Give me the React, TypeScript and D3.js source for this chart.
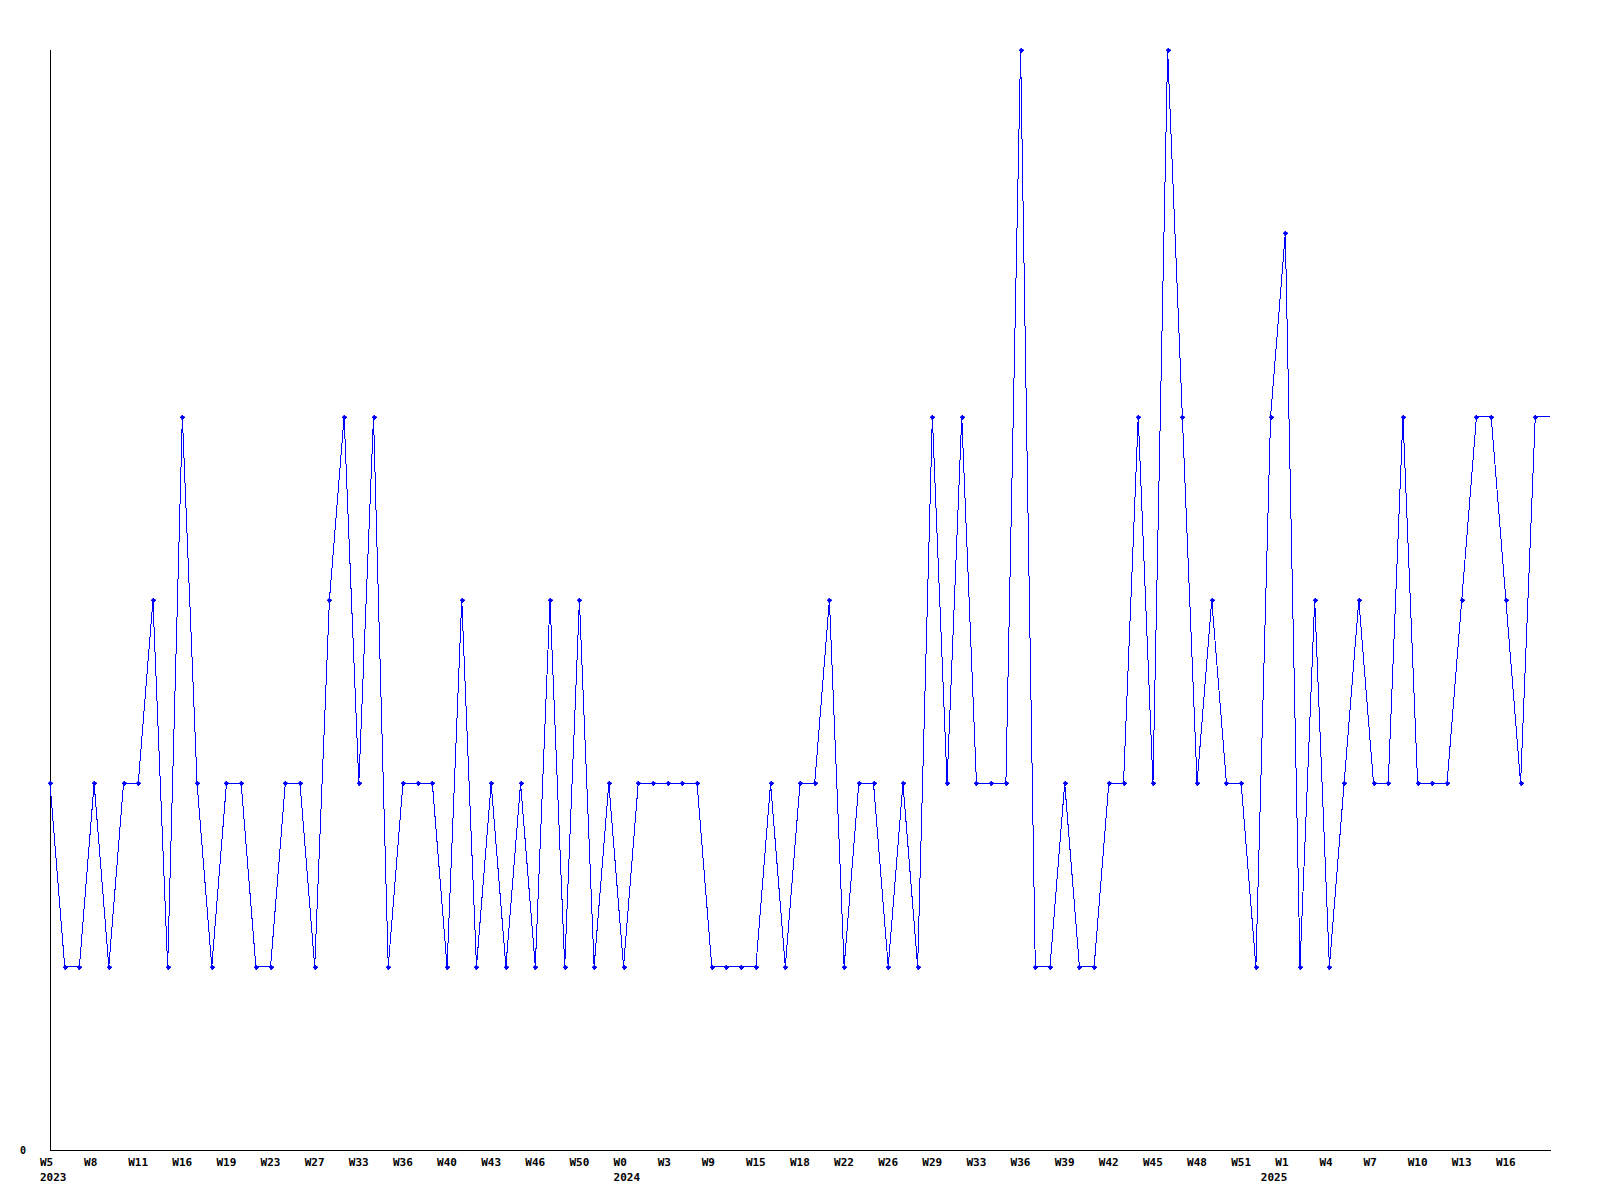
import React from "react";
import * as d3 from "d3";

const values: number[] = [
  2, 1, 1, 2, 1, 2, 2, 3, 1, 4,
  2, 1, 2, 2, 1, 1, 2, 2, 1, 3,
  4, 2, 4, 1, 2, 2, 2, 1, 3, 1,
  2, 1, 2, 1, 3, 1, 3, 1, 2, 1,
  2, 2, 2, 2, 2, 1, 1, 1, 1, 2,
  1, 2, 2, 3, 1, 2, 2, 1, 2, 1,
  4, 2, 4, 2, 2, 2, 6, 1, 1, 2,
  1, 1, 2, 2, 4, 2, 6, 4, 2, 3,
  2, 2, 1, 4, 5, 1, 3, 1, 2, 3,
  2, 2, 4, 2, 2, 2, 3, 4, 4, 3,
  2, 4,
];

const weekLabels: string[] = [
  "W5", "W8", "W11", "W16", "W19", "W23", "W27", "W33", "W36", "W40",
  "W43", "W46", "W50", "W0", "W3", "W9", "W15", "W18", "W22", "W26",
  "W29", "W33", "W36", "W39", "W42", "W45", "W48", "W51", "W1", "W4",
  "W7", "W10", "W13", "W16",
];
const labelEvery = 3;

const yearLabels: { label: string; weekIndex: number }[] = [
  { label: "2023", weekIndex: 0 },
  { label: "2024", weekIndex: 13 },
  { label: "2025", weekIndex: 28 },
];

const yMax = 6;

export default function App() {
  const W = 1600;
  const H = 1200;
  const left = 50;
  const right = 1550;
  const top = 50;
  const bottom = 1150;

  const x = d3.scaleLinear().domain([0, values.length]).range([left, right]);
  const y = d3.scaleLinear().domain([0, yMax]).range([bottom, top]);

  const line = d3
    .line<number>()
    .x((_, i) => x(i))
    .y((d) => y(d));

  const path = line(values) || "";
  const last = values[values.length - 1];
  const tail = `M${x(values.length - 1)},${y(last)}H${x(values.length)}`;

  const font = "'DejaVu Sans Mono', 'Liberation Mono', monospace";

  return (
    <svg
      width={W}
      height={H}
      style={{ position: "absolute", left: 0, top: 0, background: "#fff" }}
    >
      <rect x={0} y={0} width={W} height={H} fill="#fff" />
      {/* axes */}
      <line
        x1={left + 0.5}
        x2={left + 0.5}
        y1={top}
        y2={bottom + 0.5}
        stroke="#000"
        strokeWidth={1}
        shapeRendering="crispEdges"
      />
      <line
        x1={left}
        x2={right + 1}
        y1={bottom + 0.5}
        y2={bottom + 0.5}
        stroke="#000"
        strokeWidth={1}
        shapeRendering="crispEdges"
      />
      {/* y label */}
      <text
        x={left - 30}
        y={bottom + 4}
        fontFamily={font}
        fontWeight="bold"
        fontSize={10}
        fill="#000"
      >
        0
      </text>
      {/* week labels */}
      {weekLabels.map((lab, k) => (
        <text
          key={"w" + k}
          x={x(k * labelEvery) - 10}
          y={bottom + 16}
          fontFamily={font}
          fontWeight="bold"
          fontSize={11}
          fill="#000"
        >
          {lab}
        </text>
      ))}
      {yearLabels.map((yl, k) => {
        const px = x(yl.weekIndex * labelEvery);
        const isShort = weekLabels[yl.weekIndex].length < 3 && k > 1;
        return (
          <text
            key={"y" + k}
            x={isShort ? px + 2 : px - 10}
            y={bottom + 31}
            textAnchor={isShort ? "end" : "start"}
            fontFamily={font}
            fontWeight="bold"
            fontSize={11}
            fill="#000"
          >
            {yl.label}
          </text>
        );
      })}
      {/* series */}
      <path
        d={path}
        fill="none"
        stroke="#0000ff"
        strokeWidth={1}
        shapeRendering="crispEdges"
      />
      <path
        d={tail}
        fill="none"
        stroke="#0000ff"
        strokeWidth={1}
        shapeRendering="crispEdges"
      />
      {values.map((v, i) => (
        <g key={"m" + i} transform={`translate(${Math.round(x(i))},${Math.round(y(v))})`}>
          <rect x={-2} y={-0.5} width={5} height={1.5} fill="#0000ff" />
          <rect x={-0.5} y={-2} width={1.5} height={5} fill="#0000ff" />
          <rect x={-1} y={-1} width={3} height={3} fill="#0000ff" />
        </g>
      ))}
    </svg>
  );
}
